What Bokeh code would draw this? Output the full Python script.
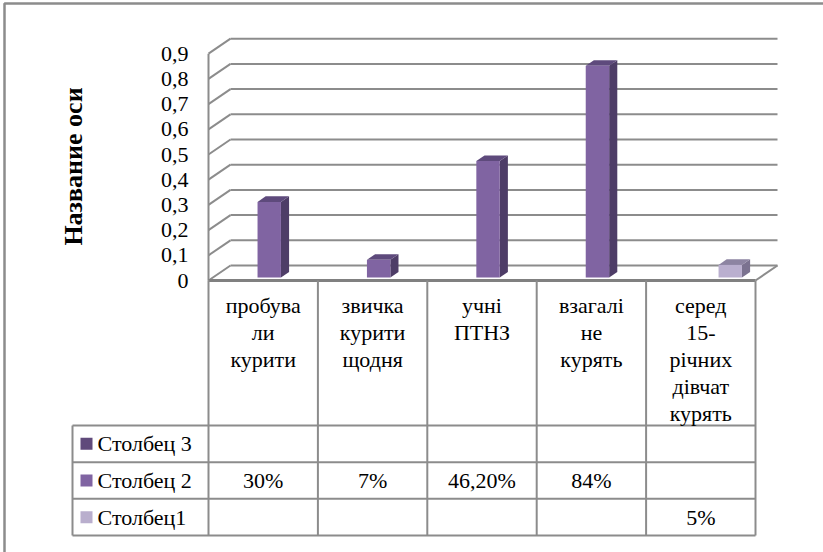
import math

from bokeh.plotting import figure
from bokeh.models import Range1d, Label
from bokeh.core.properties import value
from bokeh.embed import file_html
from bokeh.resources import INLINE

# ---- data -----------------------------------------------------------------
categories = [
    "пробува\nли\nкурити",
    "звичка\nкурити\nщодня",
    "учні\nПТНЗ",
    "взагалі\nне\nкурять",
    "серед\n15-\nрічних\nдівчат\nкурять",
]
series_names = ["Столбец 3", "Столбец 2", "Столбец1"]
stolbets_3 = [None, None, None, None, None]
stolbets_2 = [0.30, 0.07, 0.462, 0.84, None]
stolbets_1 = [None, None, None, None, 0.05]
y_ticks = [0.0, 0.1, 0.2, 0.3, 0.4, 0.5, 0.6, 0.7, 0.8, 0.9]
axis_title = "Название оси"

series_values = [stolbets_3, stolbets_2, stolbets_1]
series_front = ["#604A7B", "#8064A2", "#BAAFCF"]
series_top = ["#4D3B63", "#5E4A7C", "#8D84A2"]
series_side = ["#3E3050", "#4E3D67", "#7B7290"]
legend_key = ["#604A7B", "#8064A2", "#B9AECD"]

# ---- canvas / scale setup ---------------------------------------------------
W, H = 823, 552
X0_PX, COL_PX = 208.0, 109.4      # left edge of the category axis, width of one category
Y0_PX, UNIT_PX = 280.0, 252.0     # baseline of the front plane, pixels per 1.0 of value


def px_x(px):
    return (px - X0_PX) / COL_PX


def px_y(py):
    return (Y0_PX - py) / UNIT_PX


DEPTH_DX = 22.0 / COL_PX          # oblique offset of the back wall
DEPTH_DY = 15.0 / UNIT_PX
N = len(categories)

p = figure(
    width=W, height=H, output_backend="svg", toolbar_location=None,
    x_range=Range1d(px_x(0), px_x(W)), y_range=Range1d(px_y(H), px_y(0)),
    min_border=0, background_fill_color="white", border_fill_color="white",
)
p.axis.visible = False
p.grid.visible = False
p.outline_line_color = None

GRID = "#8C8C8C"
SERIF = "Liberation Serif"

# outer chart border
p.line([px_x(4), px_x(4), px_x(W)], [px_y(H), px_y(3), px_y(3)], line_color=GRID, line_width=2.5)

# ---- walls and gridlines ----------------------------------------------------
top = y_ticks[-1]
for g in y_ticks:
    # back wall
    p.line([DEPTH_DX, N + DEPTH_DX], [g + DEPTH_DY, g + DEPTH_DY], line_color=GRID, line_width=2)
    # left wall diagonal
    p.line([0, DEPTH_DX], [g, g + DEPTH_DY], line_color=GRID, line_width=2)
# front vertical axis
p.line([0, 0], [0, top], line_color=GRID, line_width=2)
# floor right edge
p.line([N, N + DEPTH_DX], [0, DEPTH_DY], line_color=GRID, line_width=2)

# ---- 3D columns -------------------------------------------------------------
BAR_W = 0.214
D_FRONT, D_BACK = 0.2, 0.57
ddx = (D_BACK - D_FRONT) * DEPTH_DX
ddy = (D_BACK - D_FRONT) * DEPTH_DY
base = D_FRONT * DEPTH_DY

for s, vals in enumerate(series_values):
    slot = s - 1
    fx, fy, sx, sy, tx, ty = [], [], [], [], [], []
    for i, v in enumerate(vals):
        if v is None:
            continue
        xl = i + 0.5 + slot * BAR_W - BAR_W / 2 + D_FRONT * DEPTH_DX + 0.015
        xr = xl + BAR_W
        t = base + v
        fx.append([xl, xr, xr, xl]); fy.append([base, base, t, t])
        sx.append([xr, xr + ddx, xr + ddx, xr]); sy.append([base, base + ddy, t + ddy, t])
        tx.append([xl, xr, xr + ddx, xl + ddx]); ty.append([t, t, t + ddy, t + ddy])
    if not fx:
        continue
    p.patches(sx, sy, fill_color=series_side[s], line_color=None)
    p.patches(tx, ty, fill_color=series_top[s], line_color=None)
    p.patches(fx, fy, fill_color=series_front[s], line_color=None)


def label(x, y, text, size="22px", align="center", bold=False, angle=0.0):
    p.add_layout(Label(x=x, y=y, text=text, text_font=SERIF, text_font_size=size,
                       text_font_style="bold" if bold else "normal",
                       text_align=align, text_baseline="middle", text_color="black",
                       angle=angle))


# ---- value axis labels and title ---------------------------------------------
for t in y_ticks:
    label(px_x(188), t, ("%g" % t).replace(".", ","), align="right")

label(px_x(73), px_y(166), axis_title, size="26px", bold=True, angle=math.pi / 2)

# ---- data table ---------------------------------------------------------------
ROW_EDGES = [425.0, 461.7, 498.3, 535.0]
LEGEND_LEFT = 72.0
TABLE = "#8C8C8C"

# top edge (front floor edge)
p.line([0, N], [0, 0], line_color="#808080", line_width=3)
# column separators
for c in range(N + 1):
    p.line([c, c], [0, px_y(ROW_EDGES[-1])], line_color=TABLE, line_width=2)
# row separators
for r in ROW_EDGES:
    p.line([px_x(LEGEND_LEFT), N], [px_y(r), px_y(r)], line_color=TABLE, line_width=2)
p.line([px_x(LEGEND_LEFT)] * 2, [px_y(ROW_EDGES[0]), px_y(ROW_EDGES[-1])], line_color=TABLE, line_width=2)

# category headers
LINE_STEP = 27.0
for i, cat in enumerate(categories):
    for k, line in enumerate(cat.split("\n")):
        label(i + 0.5, px_y(305 + k * LINE_STEP), line)


def pct(v):
    x = round(v * 100, 2)
    if float(x).is_integer():
        return "%d%%" % int(x)
    return ("%.2f%%" % x).replace(".", ",")


row_centers = [px_y((ROW_EDGES[r] + ROW_EDGES[r + 1]) / 2) for r in range(3)]

# legend keys and series names
p.scatter(x=[px_x(86)] * 3, y=row_centers, marker="square", size=12,
          fill_color=legend_key, line_color=None)
for r, name in enumerate(series_names):
    label(px_x(97), row_centers[r], name, align="left")

# cell values
for r, vals in enumerate(series_values):
    for i, v in enumerate(vals):
        if v is None:
            continue
        label(i + 0.5, row_centers[r], pct(v))

open("out.html", "w").write(file_html(p, INLINE))
